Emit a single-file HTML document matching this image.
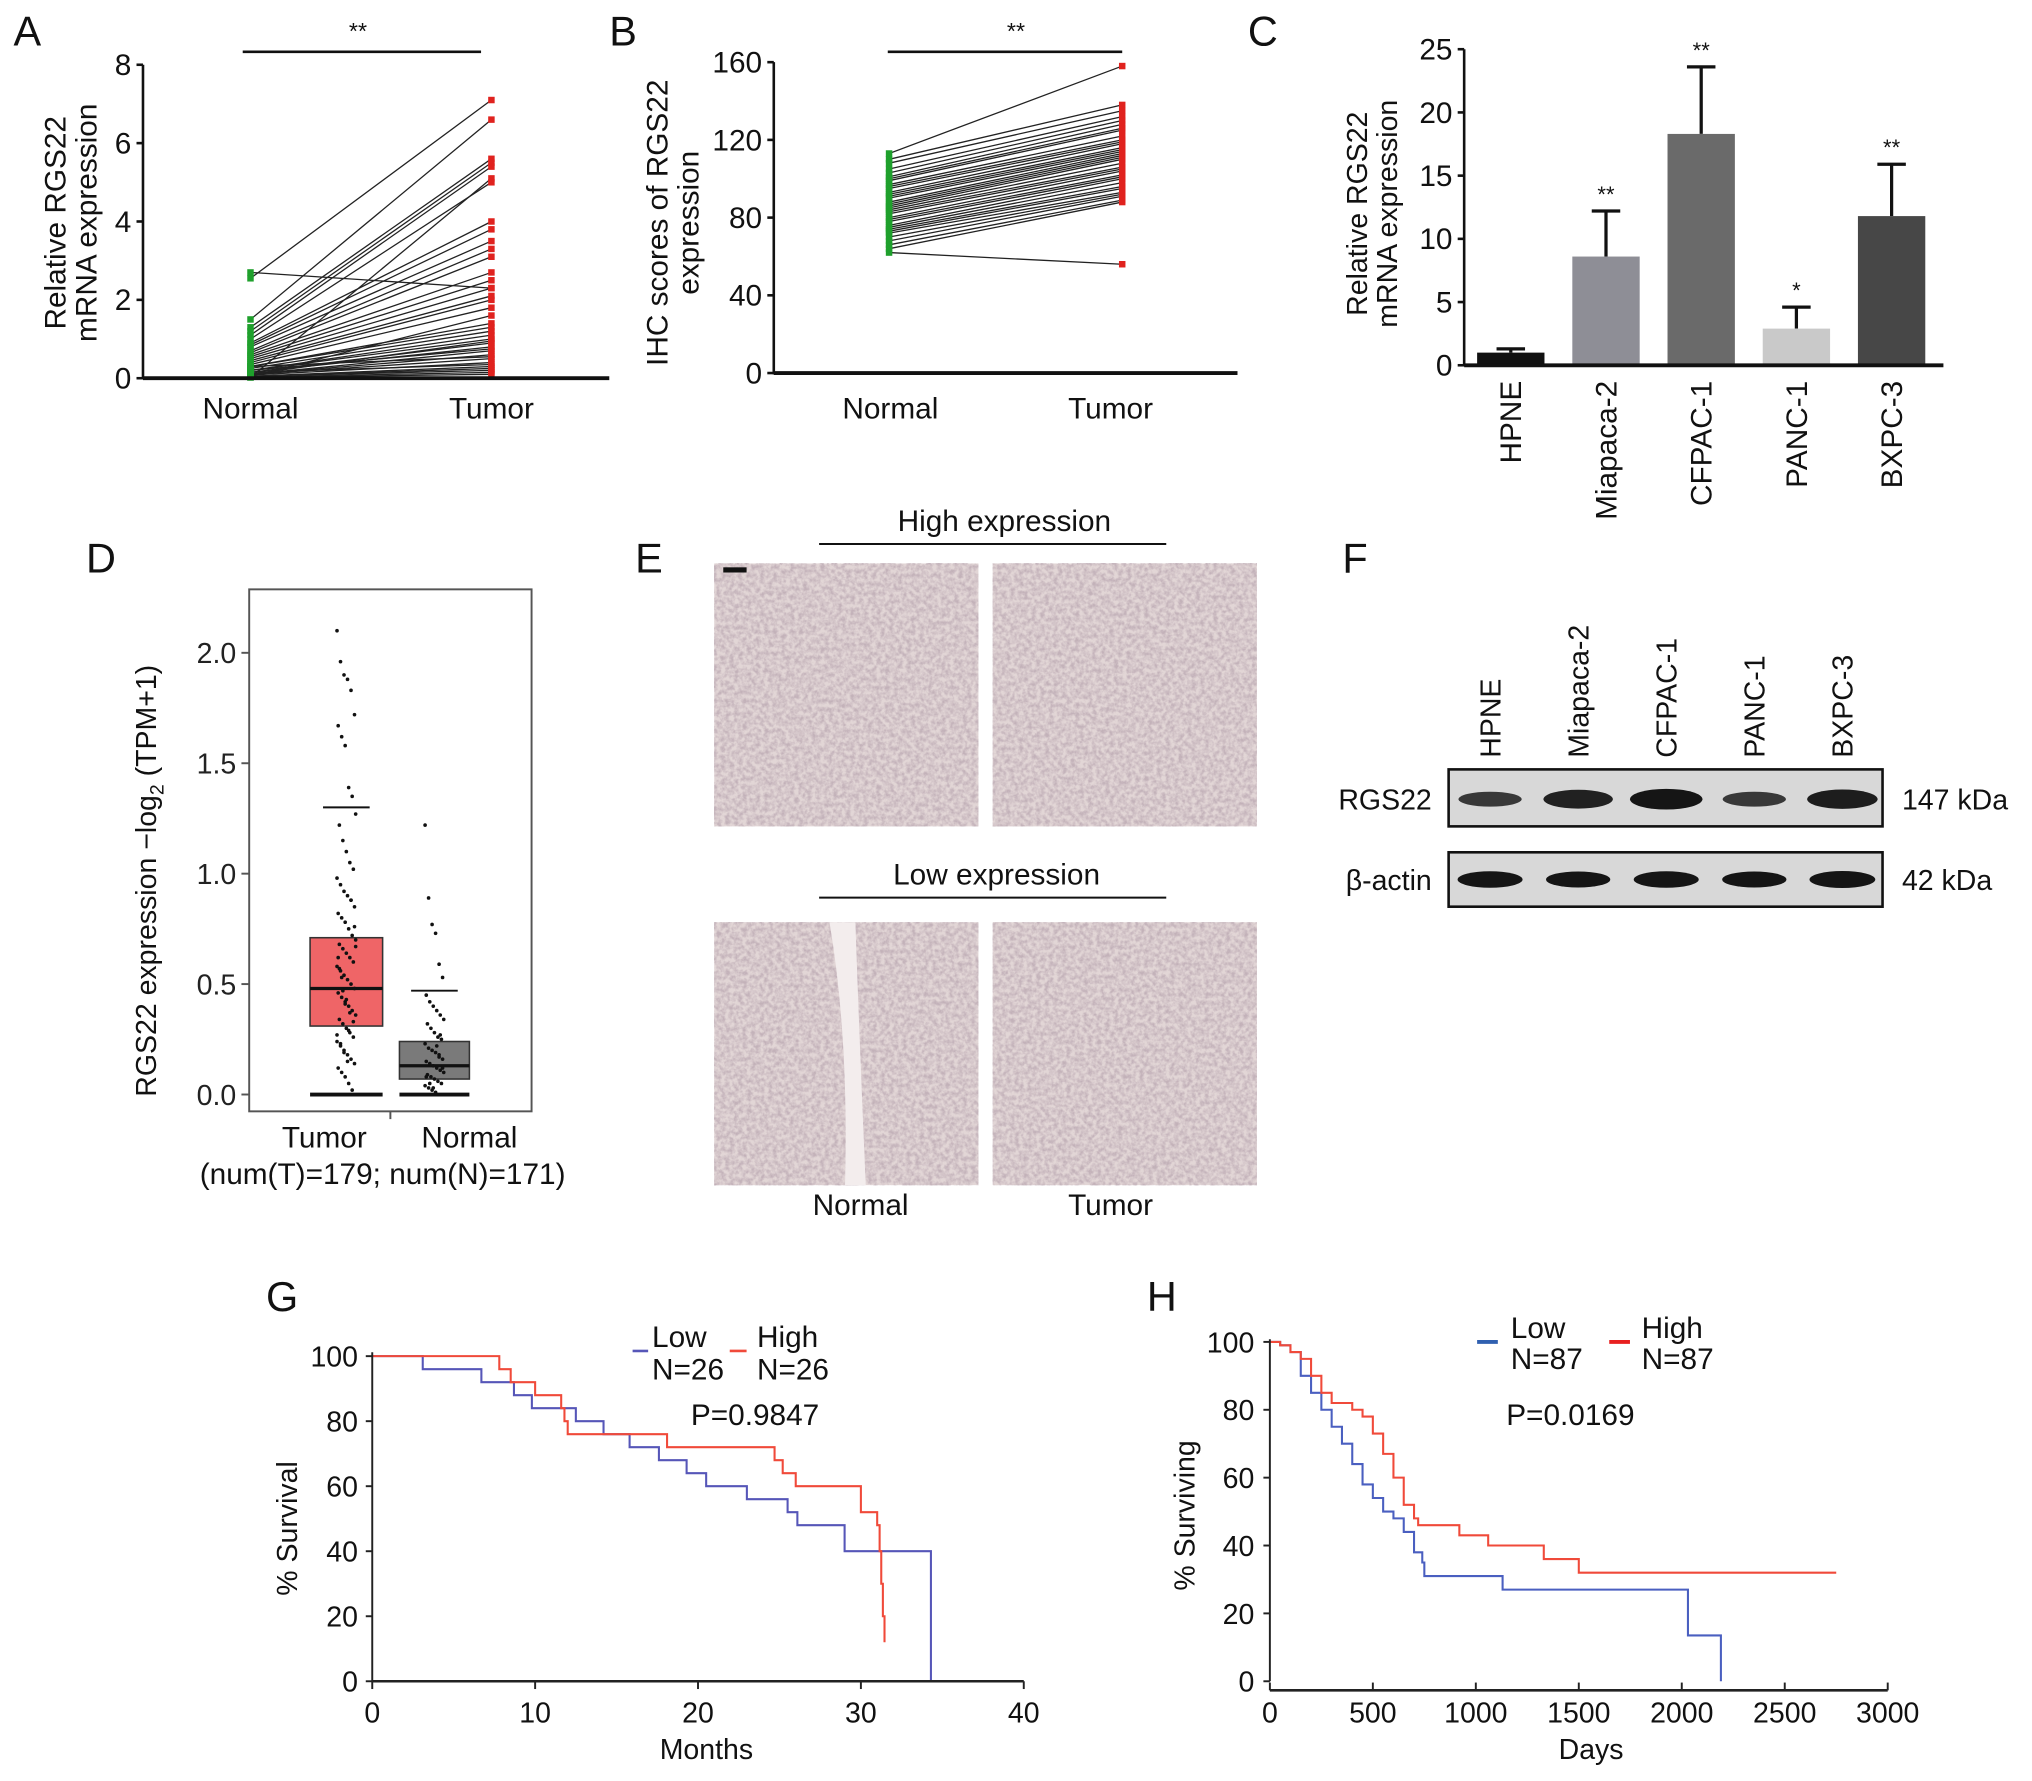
<!DOCTYPE html>
<html><head><meta charset="utf-8">
<style>
html,body{margin:0;padding:0;background:#fff;}
svg{display:block;font-family:"Liberation Sans",Arial,sans-serif;}
</style></head>
<body>
<svg id="fig" width="2032" height="1781" viewBox="0 0 1568 1375" xmlns="http://www.w3.org/2000/svg">
<defs>
<filter id="tissue" x="0" y="0" width="100%" height="100%">
<feTurbulence type="fractalNoise" baseFrequency="0.3" numOctaves="3" seed="3"/>
<feColorMatrix type="matrix" values="0 0 0 0 0.5  0 0 0 0 0.4  0 0 0 0 0.45  0 0 0 -2.2 1.5"/>
</filter>
</defs>
<g id="root"></g>
</svg>
<script>
// ---------- data ----------
const pairNormalA=[2.7,2.55,1.5,1.3,1.2,1.1,1.0,0.9,0.85,0.8,0.7,0.65,0.6,0.55,0.5,0.45,0.4,0.35,0.3,0.3,0.25,0.2,0.2,0.15,0.15,0.1,0.1,0.1,0.08,0.05,0.05,0.05,0.03,0.02,0.02,0.1,0.2,0.3,0.15,0.05];
const pairTumorA=[2.3,7.1,6.6,5.6,5.5,5.4,5.0,4.0,3.8,3.5,3.3,3.1,2.7,2.5,2.3,2.1,2.0,1.8,1.4,1.3,1.2,1.1,1.0,0.9,0.8,0.7,0.6,0.5,0.4,0.3,0.25,0.2,0.15,0.1,5.1,0.95,0.75,0.55,0.35,1.6];
const pairNormalB=[62,113,110,108,105,103,101,100,99,97,96,95,93,92,91,90,88,87,86,85,84,83,82,80,79,78,76,75,74,73,72,70,68,66,64];
const pairTumorB=[56,158,138,135,132,130,128,126,125,122,120,119,118,116,115,114,113,112,111,110,108,106,105,104,102,101,100,98,96,95,93,92,91,89,88];
const cellLines=["HPNE","Miapaca-2","CFPAC-1","PANC-1","BXPC-3"];
const cellMeans=[1.0,8.6,18.3,2.9,11.8];
const cellErrs=[0.3,3.6,5.3,1.7,4.1];
const cellSig=["","**","**","*","**"];
const cellColors=["#111","#8e8e96","#6a6a6a","#c9c9c9","#474747"];
const boxGroups=["Tumor","Normal"];
const boxQ1=[0.31,0.07],boxMed=[0.48,0.13],boxQ3=[0.71,0.24],boxWhiskTop=[1.30,0.47],boxWhiskBot=[0,0];
const tumorPts=[2.10,1.96,1.90,1.88,1.83,1.72,1.67,1.62,1.58,1.39,1.35,1.27,1.22,1.15,1.10,1.05,1.02,0.98,0.95,0.92,0.90,0.88,0.85,0.82,0.80,0.78,0.75,0.72,0.70,0.68,0.66,0.64,0.62,0.60,0.58,0.56,0.54,0.52,0.50,0.48,0.46,0.44,0.42,0.40,0.38,0.36,0.34,0.32,0.30,0.28,0.26,0.24,0.22,0.20,0.18,0.16,0.14,0.12,0.10,0.08,0.05,0.02,0.67,0.57,0.47,0.43,0.37,0.33,0.27,0.23,0.19,0.15,0.88,0.76,0.62,0.53,0.41,0.29];
const normalPts=[1.22,0.89,0.77,0.73,0.59,0.53,0.45,0.42,0.40,0.38,0.36,0.34,0.32,0.30,0.28,0.26,0.25,0.23,0.21,0.20,0.19,0.18,0.16,0.15,0.14,0.13,0.12,0.11,0.10,0.09,0.08,0.07,0.06,0.05,0.04,0.03,0.02,0.01,0.17,0.12,0.08,0.05,0.03,0.22,0.27];
const blotLanes=["HPNE","Miapaca-2","CFPAC-1","PANC-1","BXPC-3"];
const rgsBand=[0.55,0.85,1.0,0.55,0.9];
const actinBand=[0.85,0.8,0.85,0.8,0.9];
const gLowT=[0,3.1,6.7,8.7,9.8,12.5,14.2,15.8,17.6,19.3,20.5,23,25.5,26.1,29,34.3];
const gLowS=[100,96,92,88,84,80,76,72,68,64,60,56,52,48,40,0];
const gHighT=[0,7.8,8.5,10,11.6,11.8,12,18.1,24.7,25.2,26,30,31,31.15,31.25,31.35,31.45];
const gHighS=[100,96,92,88,84,80,76,72,68,64,60,52,48,40,30,20,12];
const hLowT=[0,50,100,150,200,250,300,350,400,450,500,550,600,650,700,740,750,1130,2030,2190];
const hLowS=[100,99,97,90,85,80,75,70,64,58,54,50,48,44,38,35,31,27,13.5,0];
const hHighT=[0,50,100,150,200,250,300,400,450,500,550,600,650,700,720,920,1060,1330,1500,2750];
const hHighS=[100,99,97,95,90,85,82,80,78,73,67,60,52,48,46,43,40,36,32,32];

// ---------- helpers ----------
const NS="http://www.w3.org/2000/svg";
const root=document.getElementById('root');
function mk(tag,attrs,parent){const e=document.createElementNS(NS,tag);for(const k in attrs)e.setAttribute(k,attrs[k]);(parent||root).appendChild(e);return e;}
function txt(x,y,s,size,anchor,parent,extra){const e=mk('text',Object.assign({x:x,y:y,'font-size':size,'text-anchor':anchor||'middle',fill:'#111'},extra||{}),parent);e.textContent=s;return e;}
function group(name){const g=mk('g',{});return g;}

[["A",10,35],["B",470,35],["C",963,35],["D",66,442],["E",490,442],["F",1036,442],["G",205,1012],["H",885,1012]].forEach(p=>{
  const t=txt(p[1],p[2],p[0],32,'start');
  
  
});

// ---------- Panel A ----------
(function(){
  const g=group('panel-a-chart');
  const x0=110,y0=292,yT=50,xE=470;
  const ys=v=>y0-(v/8)*(y0-yT);
  const xN=193,xT=379;
  for(let i=0;i<pairNormalA.length;i++){
    const l=mk('line',{x1:xN,y1:ys(pairNormalA[i]),x2:xT,y2:ys(pairTumorA[i]),stroke:'#222','stroke-width':1},g);
    
    
  }
  for(let i=0;i<pairNormalA.length;i++){
    const a=mk('rect',{x:xN-2.5,y:ys(pairNormalA[i])-2.5,width:5,height:5,fill:'#1fa02c'},g);
    
    
    const b=mk('rect',{x:xT-2.5,y:ys(pairTumorA[i])-2.5,width:5,height:5,fill:'#e0221e'},g);
    
    
  }
  mk('line',{x1:x0,y1:yT,x2:x0,y2:y0+1,stroke:'#111','stroke-width':2},g);
  mk('line',{x1:x0,y1:y0,x2:xE,y2:y0,stroke:'#111','stroke-width':3},g);
  [0,2,4,6,8].forEach(v=>{mk('line',{x1:x0-5,y1:ys(v),x2:x0,y2:ys(v),stroke:'#111','stroke-width':2},g);txt(x0-9,ys(v)+8,String(v),23,'end',g);});
  txt(xN,323,'Normal',23,'middle',g);txt(xT,323,'Tumor',23,'middle',g);
  mk('line',{x1:187,y1:40,x2:371,y2:40,stroke:'#111','stroke-width':2},g);
  txt(276,30,'**',18,'middle',g);
  txt(0,0,'Relative RGS22',23,'middle',g,{transform:'translate(50,172) rotate(-90)'});
  txt(0,0,'mRNA expression',23,'middle',g,{transform:'translate(74,172) rotate(-90)'});
})();

// ---------- Panel B ----------
(function(){
  const g=group('panel-b-chart');
  const x0=597,y0=288,yT=48,xE=955;
  const ys=v=>y0-(v/160)*(y0-yT);
  const xN=686,xT=866;
  for(let i=0;i<pairNormalB.length;i++){
    const l=mk('line',{x1:xN,y1:ys(pairNormalB[i]),x2:xT,y2:ys(pairTumorB[i]),stroke:'#222','stroke-width':1},g);
    
    
  }
  for(let i=0;i<pairNormalB.length;i++){
    const a=mk('rect',{x:xN-2.5,y:ys(pairNormalB[i])-2.5,width:5,height:5,fill:'#1fa02c'},g);
    
    
    const b=mk('rect',{x:xT-2.5,y:ys(pairTumorB[i])-2.5,width:5,height:5,fill:'#e0221e'},g);
    
    
  }
  mk('line',{x1:x0,y1:yT,x2:x0,y2:y0+1,stroke:'#111','stroke-width':2},g);
  mk('line',{x1:x0,y1:y0,x2:xE,y2:y0,stroke:'#111','stroke-width':3},g);
  [0,40,80,120,160].forEach(v=>{mk('line',{x1:x0-5,y1:ys(v),x2:x0,y2:ys(v),stroke:'#111','stroke-width':2},g);txt(x0-9,ys(v)+8,String(v),23,'end',g);});
  txt(687,323,'Normal',23,'middle',g);txt(857,323,'Tumor',23,'middle',g);
  mk('line',{x1:685,y1:40,x2:866,y2:40,stroke:'#111','stroke-width':2},g);
  txt(784,30,'**',18,'middle',g);
  txt(0,0,'IHC scores of RGS22',23,'middle',g,{transform:'translate(515,172) rotate(-90)'});
  txt(0,0,'expression',23,'middle',g,{transform:'translate(539,172) rotate(-90)'});
})();

// ---------- Panel C ----------
(function(){
  const g=group('panel-c-chart');
  const x0=1130,y0=282,yT=38,xE=1500;
  const ys=v=>y0-(v/25)*(y0-yT);
  const xc=i=>1166+i*73.5, bw=52;
  for(let i=0;i<cellLines.length;i++){
    const top=ys(cellMeans[i]+cellErrs[i]);
    mk('line',{x1:xc(i),y1:ys(cellMeans[i]),x2:xc(i),y2:top,stroke:'#111','stroke-width':2.5},g);
    mk('line',{x1:xc(i)-11,y1:top,x2:xc(i)+11,y2:top,stroke:'#111','stroke-width':2.5},g);
    const r=mk('rect',{x:xc(i)-bw/2,y:ys(cellMeans[i]),width:bw,height:y0-ys(cellMeans[i]),fill:cellColors[i]},g);
    
    
    if(cellSig[i])txt(xc(i),top-7,cellSig[i],17,'middle',g);
    txt(0,0,cellLines[i],23,'end',g,{transform:'translate('+(xc(i)+8)+',294) rotate(-90)'});
  }
  mk('line',{x1:x0,y1:yT,x2:x0,y2:y0+1,stroke:'#111','stroke-width':2},g);
  mk('line',{x1:x0,y1:y0,x2:xE,y2:y0,stroke:'#111','stroke-width':3},g);
  [0,5,10,15,20,25].forEach(v=>{mk('line',{x1:x0-5,y1:ys(v),x2:x0,y2:ys(v),stroke:'#111','stroke-width':2},g);txt(x0-9,ys(v)+8,String(v),23,'end',g);});
  txt(0,0,'Relative RGS22',22,'middle',g,{transform:'translate(1055,165) rotate(-90)'});
  txt(0,0,'mRNA expression',22,'middle',g,{transform:'translate(1078,165) rotate(-90)'});
})();

// ---------- Panel D ----------
(function(){
  const g=group('panel-d-boxplot');
  const ys=v=>845-v*170.5;
  mk('rect',{x:192,y:455,width:218,height:403,fill:'none',stroke:'#555','stroke-width':1.5},g);
  [0,0.5,1.0,1.5,2.0].forEach(v=>{mk('line',{x1:186,y1:ys(v),x2:192,y2:ys(v),stroke:'#555','stroke-width':1.5},g);txt(182,ys(v)+8,v.toFixed(1),22,'end',g,{fill:'#222'});});
  const cx=[267,335],bw=[56,54],fills=['#ef6567','#7a7a7a'],pts=[tumorPts,normalPts];
  for(let i=0;i<2;i++){
    mk('line',{x1:cx[i]-18,y1:ys(boxWhiskTop[i]),x2:cx[i]+18,y2:ys(boxWhiskTop[i]),stroke:'#111','stroke-width':1.5},g);
    mk('line',{x1:cx[i]-bw[i]/2,y1:ys(boxWhiskBot[i]),x2:cx[i]+bw[i]/2,y2:ys(boxWhiskBot[i]),stroke:'#111','stroke-width':3},g);
    const b=mk('rect',{x:cx[i]-bw[i]/2,y:ys(boxQ3[i]),width:bw[i],height:ys(boxQ1[i])-ys(boxQ3[i]),fill:fills[i],stroke:'#333','stroke-width':1.2},g);
    
    
    mk('line',{x1:cx[i]-bw[i]/2,y1:ys(boxMed[i]),x2:cx[i]+bw[i]/2,y2:ys(boxMed[i]),stroke:'#111','stroke-width':2.5},g);
    pts[i].forEach((v,k)=>{
      const jx=((k*37)%17-8)*0.9;
      const c=mk('circle',{cx:cx[i]+jx,cy:ys(v),r:1.4,fill:'#111'},g);
      
      
    });
  }
  mk('line',{x1:301,y1:858,x2:301,y2:864,stroke:'#555','stroke-width':1.5},g);
  txt(250,886,'Tumor',23,'middle',g);txt(362,886,'Normal',23,'middle',g);
  txt(295,914,'(num(T)=179; num(N)=171)',23,'middle',g);
  const yt=txt(0,0,'RGS22 expression \u2212log',22,'middle',g,{transform:'translate(120,680) rotate(-90)'});
  const s1=mk('tspan',{'font-size':15,dy:6},yt);s1.textContent='2';
  const s2=mk('tspan',{dy:-6},yt);s2.textContent=' (TPM+1)';
})();

// ---------- Panel E ----------
(function(){
  const g=group('panel-e-ihc-images');
  [[551,435],[766,435],[551,712],[766,712]].forEach((p,i)=>{
    const r=mk('rect',{x:p[0],y:p[1],width:204,height:203,fill:'#e2d6d6'},g);
    
    
    mk('rect',{x:p[0],y:p[1],width:204,height:203,filter:'url(#tissue)',opacity:0.8},g);
  });
  mk('path',{d:'M640 712 Q655 800 652 915 L668 915 Q663 800 660 712 Z',fill:'#f3eded'},g);
  mk('rect',{x:558,y:438,width:18,height:4,fill:'#111'},g);
  txt(775,410,'High expression',23,'middle',g);
  mk('line',{x1:632,y1:420,x2:900,y2:420,stroke:'#111','stroke-width':1.5},g);
  txt(769,683,'Low expression',23,'middle',g);
  mk('line',{x1:632,y1:693,x2:900,y2:693,stroke:'#111','stroke-width':1.5},g);
  txt(664,938,'Normal',23,'middle',g);txt(857,938,'Tumor',23,'middle',g);
})();

// ---------- Panel F ----------
(function(){
  const g=group('panel-f-western-blot');
  const lx=i=>1150+i*68;
  mk('rect',{x:1118,y:594,width:335,height:44,fill:'#d8d8d8',stroke:'#111','stroke-width':2},g);
  mk('rect',{x:1118,y:658,width:335,height:42,fill:'#d8d8d8',stroke:'#111','stroke-width':2},g);
  for(let i=0;i<blotLanes.length;i++){
    const a=mk('ellipse',{cx:lx(i),cy:617,rx:20+rgsBand[i]*8,ry:3+rgsBand[i]*5,fill:'#151515',opacity:0.6+0.4*rgsBand[i]},g);
    
    
    const b=mk('ellipse',{cx:lx(i),cy:679,rx:20+actinBand[i]*6,ry:3+actinBand[i]*4,fill:'#151515'},g);
    
    
    txt(0,0,blotLanes[i],22,'start',g,{transform:'translate('+(lx(i)+8)+',585) rotate(-90)'});
  }
  txt(1105,625,'RGS22',22,'end',g);txt(1105,687,'\u03b2-actin',22,'end',g);
  txt(1468,625,'147 kDa',22,'start',g);txt(1468,687,'42 kDa',22,'start',g);
})();

function km(g,T,S,xs,ys,color,name){
  let d='M'+xs(T[0])+' '+ys(S[0]);
  for(let i=1;i<T.length;i++){d+=' H'+xs(T[i])+' V'+ys(S[i]);}
  const p=mk('path',{d:d,fill:'none',stroke:color,'stroke-width':1.6},g);
  
  
}

// ---------- Panel G ----------
(function(){
  const g=group('panel-g-km');
  const xs=v=>287+v*12.575, ys=v=>1298-v*2.51;
  km(g,gLowT,gLowS,xs,ys,'#5656b8','km-low');
  km(g,gHighT,gHighS,xs,ys,'#f04a3a','km-high');
  mk('line',{x1:287,y1:1044,x2:287,y2:1298,stroke:'#222','stroke-width':1.5},g);
  mk('line',{x1:287,y1:1298,x2:790,y2:1298,stroke:'#222','stroke-width':2},g);
  [0,20,40,60,80,100].forEach(v=>{mk('line',{x1:282,y1:ys(v),x2:287,y2:ys(v),stroke:'#222','stroke-width':1.5},g);txt(276,ys(v)+8,String(v),22,'end',g);});
  [0,10,20,30,40].forEach(v=>{mk('line',{x1:xs(v),y1:1298,x2:xs(v),y2:1304,stroke:'#222','stroke-width':1.5},g);txt(xs(v),1330,String(v),22,'middle',g);});
  txt(545,1358,'Months',22,'middle',g);
  txt(0,0,'% Survival',22,'middle',g,{transform:'translate(229,1180) rotate(-90)'});
  mk('line',{x1:488,y1:1043,x2:500,y2:1043,stroke:'#5656b8','stroke-width':2},g);
  mk('line',{x1:563,y1:1043,x2:576,y2:1043,stroke:'#f04a3a','stroke-width':2},g);
  txt(503,1040,'Low',23,'start',g);txt(503,1065,'N=26',23,'start',g);
  txt(584,1040,'High',23,'start',g);txt(584,1065,'N=26',23,'start',g);
  txt(533,1100,'P=0.9847',23,'start',g);
})();

// ---------- Panel H ----------
(function(){
  const g=group('panel-h-km');
  const xs=v=>980+v*0.159, ys=v=>1298-v*2.62;
  km(g,hLowT,hLowS,xs,ys,'#4a5fc0','km-low');
  km(g,hHighT,hHighS,xs,ys,'#f04a3a','km-high');
  mk('line',{x1:980,y1:1034,x2:980,y2:1298,stroke:'#222','stroke-width':1.5},g);
  mk('line',{x1:980,y1:1305,x2:1457,y2:1305,stroke:'#222','stroke-width':2},g);
  [0,20,40,60,80,100].forEach(v=>{mk('line',{x1:975,y1:ys(v),x2:980,y2:ys(v),stroke:'#222','stroke-width':1.5},g);txt(968,ys(v)+8,String(v),22,'end',g);});
  [0,500,1000,1500,2000,2500,3000].forEach(v=>{mk('line',{x1:xs(v),y1:1305,x2:xs(v),y2:1299,stroke:'#222','stroke-width':1.5},g);txt(xs(v),1330,String(v),22,'middle',g);});
  txt(1228,1358,'Days',22,'middle',g);
  txt(0,0,'% Surviving',22,'middle',g,{transform:'translate(922,1170) rotate(-90)'});
  mk('line',{x1:1140,y1:1036,x2:1156,y2:1036,stroke:'#3060b0','stroke-width':3},g);
  mk('line',{x1:1242,y1:1036,x2:1258,y2:1036,stroke:'#e82020','stroke-width':3},g);
  txt(1166,1033,'Low',23,'start',g);txt(1166,1057,'N=87',23,'start',g);
  txt(1267,1033,'High',23,'start',g);txt(1267,1057,'N=87',23,'start',g);
  txt(1212,1100,'P=0.0169',23,'middle',g);
})();
</script>
</body></html>
